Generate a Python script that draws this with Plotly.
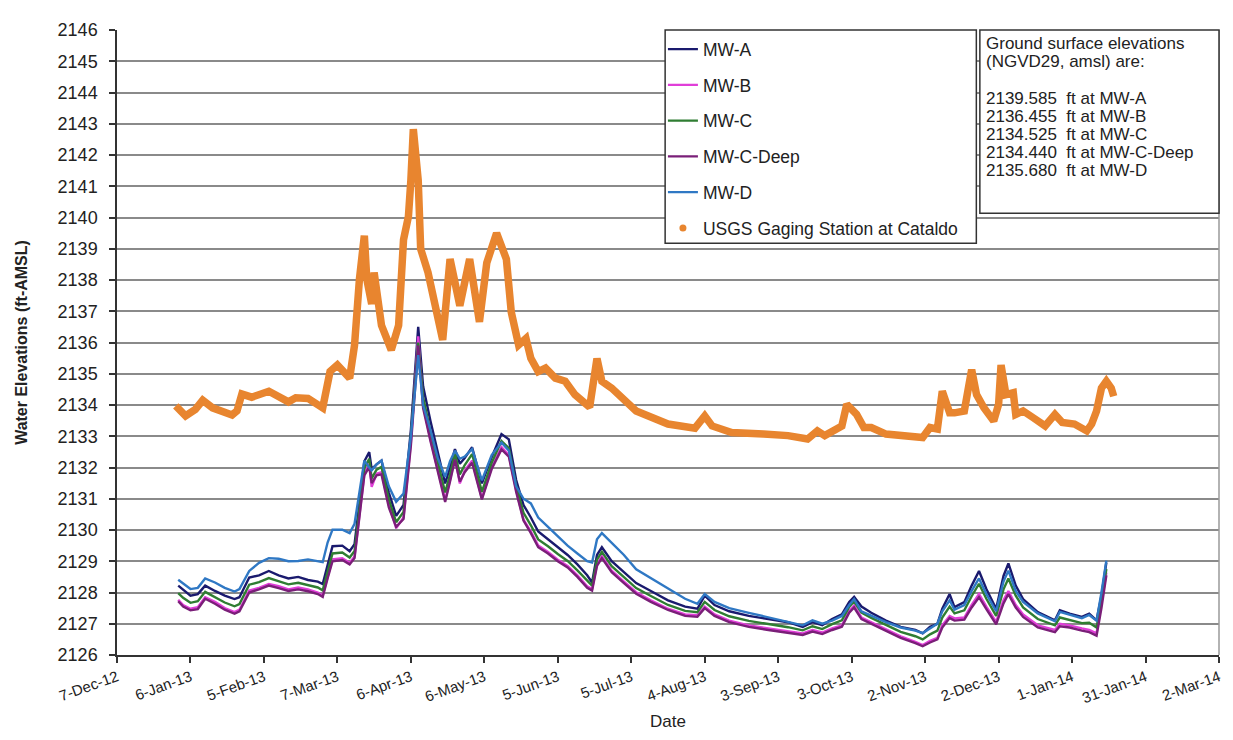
import plotly.graph_objects as go

# ---------------- data ----------------
MW_DATES = [
    "2013-01-01","2013-01-03","2013-01-06","2013-01-09","2013-01-12","2013-01-16","2013-01-20","2013-01-24","2013-01-26","2013-01-30",
    "2013-02-03","2013-02-07","2013-02-11","2013-02-15","2013-02-19","2013-02-23","2013-02-27","2013-03-01","2013-03-03","2013-03-05",
    "2013-03-09","2013-03-12","2013-03-14","2013-03-16","2013-03-18","2013-03-20","2013-03-21","2013-03-23","2013-03-25","2013-03-28",
    "2013-03-31","2013-04-03","2013-04-06","2013-04-09","2013-04-11","2013-04-14","2013-04-17","2013-04-20","2013-04-22","2013-04-24",
    "2013-04-26","2013-04-28","2013-05-01","2013-05-05","2013-05-09","2013-05-13","2013-05-16","2013-05-19","2013-05-22","2013-05-25",
    "2013-05-28","2013-06-01","2013-06-05","2013-06-09","2013-06-13","2013-06-17","2013-06-19","2013-06-21","2013-06-23","2013-06-27",
    "2013-07-02","2013-07-07","2013-07-13","2013-07-20","2013-07-27","2013-08-01","2013-08-04","2013-08-08","2013-08-14","2013-08-22",
    "2013-08-30","2013-09-07","2013-09-13","2013-09-17","2013-09-21","2013-09-25","2013-09-29","2013-10-02","2013-10-04","2013-10-07",
    "2013-10-11","2013-10-17",
    "2013-10-23","2013-10-29","2013-11-01","2013-11-04","2013-11-07","2013-11-09","2013-11-12","2013-11-14","2013-11-18","2013-11-21",
    "2013-11-24","2013-11-27","2013-12-01","2013-12-04","2013-12-06","2013-12-09","2013-12-12","2013-12-18","2013-12-25","2013-12-27",
    "2013-12-31","2014-01-05","2014-01-08","2014-01-11","2014-01-13","2014-01-15",
]

MW_A = [
    2128.22, 2128.10, 2127.90, 2127.95, 2128.22, 2128.05, 2127.90, 2127.79, 2127.85, 2128.48,
    2128.55, 2128.69, 2128.55, 2128.45, 2128.50, 2128.40, 2128.35, 2128.27, 2128.90, 2129.48,
    2129.50, 2129.32, 2129.55, 2130.90, 2132.20, 2132.49, 2131.95, 2132.10, 2132.22, 2131.20,
    2130.45, 2130.80, 2133.20, 2136.50, 2134.60, 2133.49, 2132.44, 2131.49, 2132.00, 2132.59,
    2132.12, 2132.30, 2132.65, 2131.49, 2132.33, 2133.07, 2132.90, 2131.60, 2130.80, 2130.40,
    2129.95, 2129.70, 2129.45, 2129.20, 2128.90, 2128.55, 2128.32, 2129.20, 2129.45, 2129.00,
    2128.65, 2128.30, 2128.05, 2127.75, 2127.55, 2127.48, 2127.90, 2127.60, 2127.40, 2127.25,
    2127.15, 2127.05, 2126.90, 2127.05, 2126.95, 2127.15, 2127.30, 2127.70, 2127.86, 2127.55,
    2127.35, 2127.10,
    2126.90, 2126.80, 2126.69, 2126.90, 2127.00, 2127.48, 2127.95, 2127.53, 2127.69, 2128.22,
    2128.69, 2128.11, 2127.48, 2128.53, 2128.93, 2128.22, 2127.79, 2127.37, 2127.11, 2127.43,
    2127.32, 2127.22, 2127.32, 2127.11, 2127.90, 2128.96,
]

MW_B = [
    2127.77, 2127.60, 2127.48, 2127.53, 2127.85, 2127.70, 2127.50, 2127.37, 2127.45, 2128.06,
    2128.15, 2128.27, 2128.20, 2128.10, 2128.16, 2128.10, 2128.00, 2127.90, 2128.50, 2129.06,
    2129.10, 2128.95, 2129.15, 2130.50, 2131.80, 2132.12, 2131.38, 2131.80, 2131.85, 2130.80,
    2130.06, 2130.40, 2132.80, 2136.20, 2134.00, 2132.90, 2131.90, 2130.96, 2131.60, 2132.33,
    2131.49, 2131.90, 2132.22, 2131.01, 2132.00, 2132.65, 2132.40, 2131.28, 2130.33, 2129.95,
    2129.50, 2129.30, 2129.05, 2128.85, 2128.55, 2128.20, 2128.11, 2128.90, 2129.16, 2128.70,
    2128.35, 2128.01, 2127.75, 2127.48, 2127.30, 2127.27, 2127.55, 2127.30, 2127.10, 2126.95,
    2126.85, 2126.75, 2126.69, 2126.80, 2126.72, 2126.85, 2126.95, 2127.40, 2127.58, 2127.20,
    2127.05, 2126.85,
    2126.60, 2126.42, 2126.32, 2126.45, 2126.55, 2126.95, 2127.25, 2127.17, 2127.20, 2127.60,
    2127.95, 2127.55, 2127.06, 2127.75, 2128.05, 2127.60, 2127.30, 2126.95, 2126.80, 2127.00,
    2126.95, 2126.85, 2126.80, 2126.69, 2127.60, 2128.64,
]

MW_C = [
    2127.98, 2127.83, 2127.67, 2127.72, 2128.02, 2127.86, 2127.68, 2127.56, 2127.63, 2128.25,
    2128.33, 2128.46, 2128.36, 2128.26, 2128.31, 2128.24, 2128.16, 2128.07, 2128.68, 2129.25,
    2129.28, 2129.12, 2129.33, 2130.68, 2131.98, 2132.28, 2131.65, 2131.93, 2132.02, 2130.98,
    2130.25, 2130.58, 2133.00, 2136.00, 2134.25, 2133.15, 2132.15, 2131.20, 2131.78, 2132.45,
    2131.78, 2132.08, 2132.43, 2131.22, 2132.15, 2132.85, 2132.62, 2131.42, 2130.55, 2130.15,
    2129.70, 2129.48, 2129.23, 2129.01, 2128.71, 2128.36, 2128.22, 2129.05, 2129.30, 2128.84,
    2128.49, 2128.14, 2127.89, 2127.60, 2127.41, 2127.37, 2127.70, 2127.44, 2127.24, 2127.09,
    2126.99, 2126.89, 2126.79, 2126.92, 2126.83, 2126.99, 2127.11, 2127.54, 2127.71, 2127.36,
    2127.19, 2126.96,
    2126.74, 2126.60, 2126.50, 2126.66, 2126.78, 2127.20, 2127.55, 2127.33, 2127.43, 2127.88,
    2128.28, 2127.80, 2127.25, 2128.10, 2128.45, 2127.90, 2127.52, 2127.15, 2126.95, 2127.20,
    2127.12, 2127.02, 2127.03, 2126.88, 2127.75, 2128.75,
]

MW_C_DEEP = [
    2127.72, 2127.55, 2127.43, 2127.47, 2127.80, 2127.64, 2127.45, 2127.32, 2127.40, 2128.00,
    2128.10, 2128.22, 2128.14, 2128.05, 2128.10, 2128.04, 2127.95, 2127.86, 2128.45, 2129.00,
    2129.04, 2128.90, 2129.10, 2130.45, 2131.75, 2132.02, 2131.50, 2131.75, 2131.78, 2130.72,
    2130.10, 2130.35, 2132.70, 2135.90, 2133.90, 2132.85, 2131.85, 2130.90, 2131.55, 2132.25,
    2131.55, 2131.85, 2132.15, 2130.98, 2131.95, 2132.58, 2132.35, 2131.22, 2130.30, 2129.90,
    2129.45, 2129.25, 2129.00, 2128.80, 2128.50, 2128.15, 2128.06, 2128.85, 2129.10, 2128.65,
    2128.30, 2127.96, 2127.70, 2127.44, 2127.25, 2127.22, 2127.50, 2127.25, 2127.05, 2126.90,
    2126.80, 2126.70, 2126.64, 2126.75, 2126.67, 2126.80, 2126.90, 2127.35, 2127.52, 2127.15,
    2127.00, 2126.80,
    2126.55, 2126.38, 2126.28, 2126.40, 2126.50, 2126.88, 2127.18, 2127.10, 2127.13, 2127.52,
    2127.85, 2127.47, 2126.98, 2127.65, 2127.95, 2127.52, 2127.22, 2126.88, 2126.73, 2126.92,
    2126.88, 2126.78, 2126.73, 2126.62, 2127.50, 2128.55,
]

MW_D = [
    2128.41, 2128.30, 2128.11, 2128.15, 2128.45, 2128.32, 2128.15, 2128.03, 2128.11, 2128.69,
    2128.95, 2129.10, 2129.08, 2129.00, 2129.01, 2129.06, 2129.00, 2128.97, 2129.60, 2130.01,
    2130.01, 2129.90, 2130.20, 2131.20, 2132.22, 2132.00, 2131.91, 2132.10, 2132.22, 2131.40,
    2130.90, 2131.17, 2133.00, 2135.60, 2134.00, 2133.20, 2132.30, 2131.70, 2132.20, 2132.54,
    2132.28, 2132.35, 2132.59, 2131.59, 2132.40, 2132.80, 2132.54, 2131.40, 2131.00, 2130.85,
    2130.40, 2130.10, 2129.80, 2129.50, 2129.25, 2129.00, 2128.96, 2129.70, 2129.90, 2129.59,
    2129.20, 2128.74, 2128.45, 2128.11, 2127.80, 2127.64, 2127.95, 2127.70, 2127.50, 2127.35,
    2127.20, 2127.05, 2126.95, 2127.11, 2127.00, 2127.10, 2127.25, 2127.60, 2127.79, 2127.40,
    2127.25, 2127.05,
    2126.88, 2126.78, 2126.70, 2126.85, 2127.00, 2127.40, 2127.75, 2127.45, 2127.60, 2128.05,
    2128.45, 2127.95, 2127.40, 2128.35, 2128.70, 2128.05, 2127.70, 2127.33, 2127.08, 2127.38,
    2127.30, 2127.18, 2127.28, 2127.10, 2128.00, 2129.02,
]

USGS_DATES = [
    "2012-12-31","2013-01-04","2013-01-08","2013-01-11","2013-01-15","2013-01-23","2013-01-25","2013-01-27","2013-01-31","2013-02-07",
    "2013-02-15","2013-02-18","2013-02-23","2013-03-01","2013-03-04","2013-03-07","2013-03-12","2013-03-14","2013-03-16","2013-03-18",
    "2013-03-19","2013-03-21","2013-03-22","2013-03-25","2013-03-29","2013-04-01","2013-04-03","2013-04-05","2013-04-06","2013-04-07",
    "2013-04-09","2013-04-10","2013-04-13","2013-04-19","2013-04-22","2013-04-26","2013-04-30","2013-05-04","2013-05-07","2013-05-11",
    "2013-05-15","2013-05-17","2013-05-20","2013-05-23","2013-05-25","2013-05-28","2013-05-31","2013-06-04","2013-06-08","2013-06-12",
    "2013-06-18","2013-06-21","2013-06-23","2013-06-27","2013-07-07","2013-07-20","2013-07-31","2013-08-04","2013-08-07","2013-08-15",
    "2013-08-28","2013-09-07","2013-09-15","2013-09-19","2013-09-22","2013-09-27","2013-09-29","2013-10-01","2013-10-05","2013-10-08",
    "2013-10-11","2013-10-17","2013-10-24","2013-11-01","2013-11-04","2013-11-07","2013-11-09","2013-11-12","2013-11-14","2013-11-18",
    "2013-11-21","2013-11-23","2013-11-26","2013-11-30","2013-12-02","2013-12-03","2013-12-05","2013-12-08","2013-12-09","2013-12-12",
    "2013-12-16","2013-12-21","2013-12-25","2013-12-28","2014-01-02","2014-01-07","2014-01-09","2014-01-11","2014-01-13","2014-01-15",
    "2014-01-17","2014-01-18",
]

USGS = [
    2133.97, 2133.65, 2133.86, 2134.15, 2133.91, 2133.68, 2133.81, 2134.35, 2134.25, 2134.44,
    2134.10, 2134.23, 2134.21, 2133.91, 2135.07, 2135.28, 2134.86, 2135.92, 2138.03, 2139.42,
    2138.03, 2137.23, 2138.24, 2136.55, 2135.76, 2136.55, 2139.29, 2140.03, 2141.19, 2142.83,
    2141.19, 2139.00, 2138.24, 2136.08, 2138.67, 2137.18, 2138.67, 2136.66, 2138.55, 2139.50,
    2138.67, 2136.97, 2135.92, 2136.13, 2135.49, 2135.07, 2135.18, 2134.86, 2134.76, 2134.33,
    2133.93, 2135.49, 2134.76, 2134.54, 2133.81, 2133.39, 2133.26, 2133.65, 2133.33, 2133.12,
    2133.07, 2133.02, 2132.91, 2133.17, 2133.02, 2133.28, 2133.33, 2134.02, 2133.70, 2133.28,
    2133.28, 2133.07, 2133.02, 2132.96, 2133.28, 2133.23, 2134.44, 2133.75, 2133.75, 2133.81,
    2135.13, 2134.33, 2133.91, 2133.49, 2134.02, 2135.28, 2134.33, 2134.39, 2133.70, 2133.81,
    2133.60, 2133.33, 2133.70, 2133.44, 2133.39, 2133.17, 2133.39, 2133.81, 2134.54, 2134.76,
    2134.54, 2134.28,
]

TICK_DATES = ["2012-12-07","2013-01-06","2013-02-05","2013-03-07","2013-04-06","2013-05-06","2013-06-05","2013-07-05",
              "2013-08-04","2013-09-03","2013-10-03","2013-11-02","2013-12-02","2014-01-01","2014-01-31","2014-03-02"]
TICK_LABELS = ["7-Dec-12","6-Jan-13","5-Feb-13","7-Mar-13","6-Apr-13","6-May-13","5-Jun-13","5-Jul-13",
               "4-Aug-13","3-Sep-13","3-Oct-13","2-Nov-13","2-Dec-13","1-Jan-14","31-Jan-14","2-Mar-14"]

GROUND_NOTE = ["Ground surface elevations", "(NGVD29, amsl) are:", "",
               "2139.585  ft at MW-A", "2136.455  ft at MW-B", "2134.525  ft at MW-C",
               "2134.440  ft at MW-C-Deep", "2135.680  ft at MW-D"]

for s in (MW_A, MW_B, MW_C, MW_C_DEEP, MW_D):
    assert len(s) == len(MW_DATES)
assert len(USGS) == len(USGS_DATES)

FONT = "Arial, Liberation Sans, sans-serif"
TXT = "#222222"

fig = go.Figure()
series = [
    ("MW-A", MW_A, "#1a1a6e"),
    ("MW-B", MW_B, "#e03ed8"),
    ("MW-C", MW_C, "#2f7d32"),
    ("MW-C-Deep", MW_C_DEEP, "#7a1f78"),
    ("MW-D", MW_D, "#2f78c4"),
]
for name, vals, col in series:
    fig.add_trace(go.Scatter(x=MW_DATES, y=vals, mode="lines", name=name,
                             line=dict(color=col, width=2.4), legendgroup=name))

fig.add_trace(go.Scatter(x=USGS_DATES, y=USGS, mode="lines", name="USGS Gaging Station at Cataldo",
                         line=dict(color="#e8852f", width=7.5), showlegend=False, legendgroup="usgs"))
fig.add_trace(go.Scatter(x=[None], y=[None], mode="markers", name="USGS Gaging Station at Cataldo",
                         marker=dict(color="#e8852f", size=7), legendgroup="usgs"))

fig.update_layout(
    width=1233, height=740,
    margin=dict(l=106, r=22, t=15, b=93),
    paper_bgcolor="white", plot_bgcolor="white",
    font=dict(family=FONT, size=15, color=TXT),
    legend=dict(x=0.4954, y=0.998, xanchor="left", yanchor="top",
                bgcolor="rgba(0,0,0,0)", borderwidth=0,
                font=dict(family=FONT, size=17.5, color=TXT),
                tracegroupgap=10, itemwidth=30),
    showlegend=True,
)

fig.update_xaxes(
    type="date", range=["2012-12-07", "2014-03-02"],
    tickmode="array", tickvals=TICK_DATES, ticktext=TICK_LABELS, tickangle=-20,
    ticks="outside", ticklen=6, tickcolor="#333", tickwidth=1.5,
    showline=True, linecolor="#333", linewidth=1.5, showgrid=False, zeroline=False,
    tickfont=dict(size=15, color=TXT),
    title=dict(text="Date", font=dict(size=17, color=TXT), standoff=10),
)
fig.update_yaxes(
    range=[2126, 2146], dtick=1, tick0=2126,
    ticks="outside", ticklen=6, tickcolor="#333", tickwidth=1.5,
    showline=True, linecolor="#333", linewidth=1.5,
    showgrid=True, gridcolor="#8a8a8a", gridwidth=1.5, zeroline=False,
    tickfont=dict(size=18, color=TXT), ticklabelstandoff=8,
    title=dict(text="<b>Water Elevations (ft-AMSL)</b>", font=dict(size=16, color=TXT), standoff=26),
)

# right border of plot area
fig.add_shape(type="line", xref="paper", yref="paper", x0=1, x1=1, y0=0, y1=1,
              line=dict(color="#9a9a9a", width=1.5))
# legend frame
fig.add_shape(type="rect", xref="paper", yref="paper", x0=0.4974, x1=0.7798, y0=0.659, y1=1.0,
              line=dict(color="#333", width=1.5), fillcolor="white", layer="above")
# note frame
fig.add_shape(type="rect", xref="paper", yref="paper", x0=0.783, x1=1.0, y0=0.707, y1=1.0,
              line=dict(color="#333", width=1.5), fillcolor="white", layer="above")
line_step = 18.3 / 632.0
for i, line in enumerate(GROUND_NOTE):
    if not line:
        continue
    fig.add_annotation(xref="paper", yref="paper", x=0.787, y=0.978 - i * line_step,
                       xanchor="left", yanchor="middle", align="left", showarrow=False,
                       text=line, font=dict(family=FONT, size=17, color=TXT))

fig.write_html("out.html")
